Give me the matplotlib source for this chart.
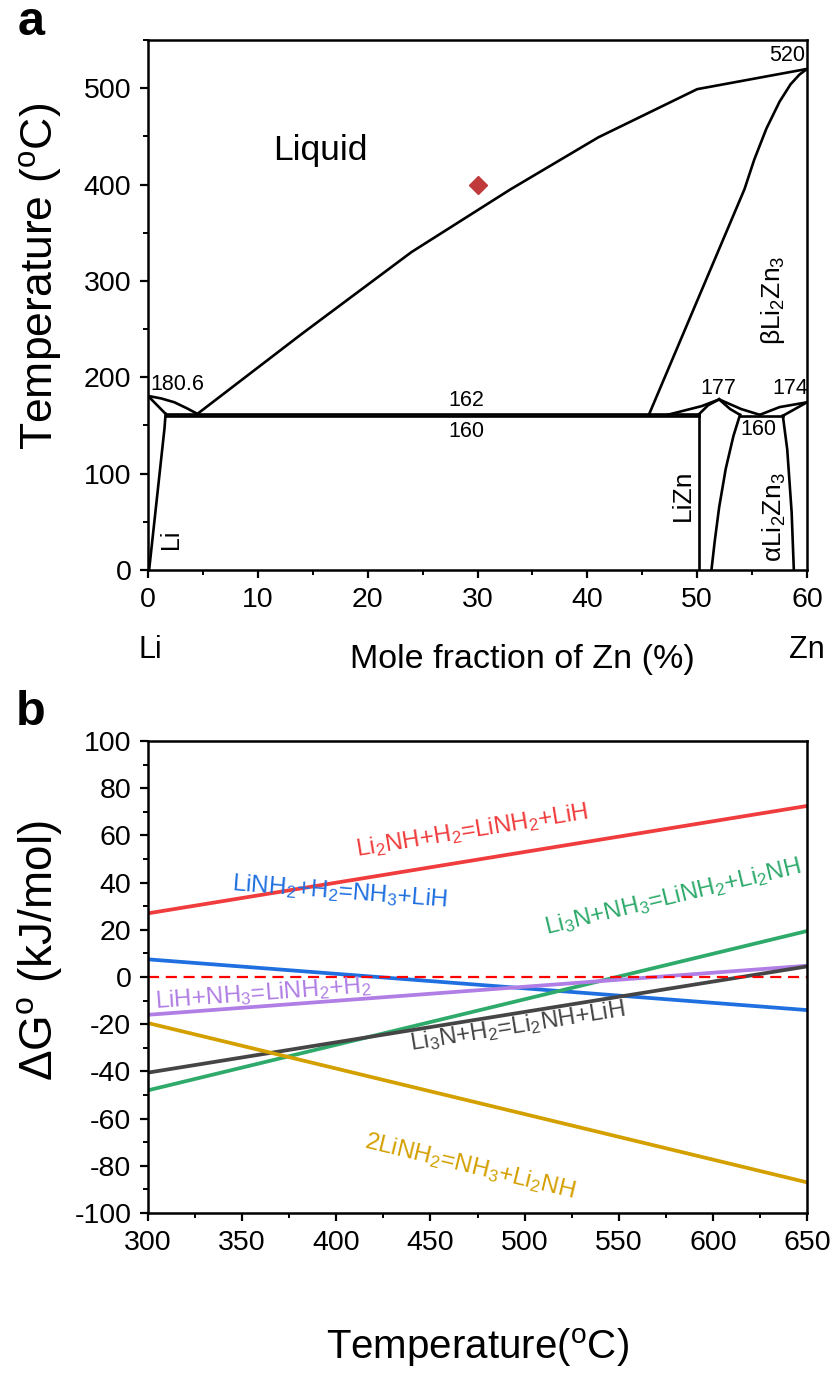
import numpy as np
import matplotlib
matplotlib.use("Agg")
import matplotlib.pyplot as plt
from matplotlib.ticker import MultipleLocator

plt.rcParams['font.family'] = ['Liberation Sans', 'DejaVu Sans']
plt.rcParams['mathtext.default'] = 'regular'
plt.rcParams['axes.unicode_minus'] = False

# ---- panel a : Li-Zn phase diagram ----
liq_x = [4.5, 14, 24, 33, 41, 50, 60]
liq_y = [162, 245, 330, 395, 449, 499, 520]
li_liq_x = [0, 1.2, 2.4, 3.5, 4.5]
li_liq_y = [180.6, 178, 174, 168, 162]
li_sol_x = [0, 1.6]
li_sol_y = [180.6, 162]
li_solvus_x = [1.6, 1.5, 0.1]
li_solvus_y = [162, 147, 0]
eut_x = [1.6, 50.2]
beta_x = [45.6, 54.3, 55.2, 56.3, 57.5, 58.5, 59.3, 60]
beta_y = [161, 395, 426, 458, 486, 504, 514, 520]
lizn_left_x = [50.2, 50.2]
lizn_left_y = [0, 162]
lizn_liq_l_x = [47.3, 50.4, 52.0]
lizn_liq_l_y = [161, 170, 177]
lizn_sol_l_x = [50.2, 51.0, 52.0]
lizn_sol_l_y = [162, 171, 177]
lizn_sol_r_x = [52.0, 53.0, 53.9]
lizn_sol_r_y = [177, 167, 161]
lizn_liq_r_x = [52.0, 54.0, 55.7]
lizn_liq_r_y = [177, 167, 161]
lizn_right_x = [53.9, 53.3, 52.6, 52.0, 51.6, 51.3]
lizn_right_y = [161, 139, 105, 65, 30, 0]
alpha_right_x = [57.8, 58.2, 58.6, 58.8]
alpha_right_y = [160, 125, 60, 0]
eut2_x = [53.9, 57.8]
zn_liq_x = [55.7, 57.5, 60]
zn_liq_y = [161, 169, 174]
zn_sol_x = [57.8, 60]
zn_sol_y = [160, 174]
point_x = [30]
point_y = [400]

# ---- panel b : Gibbs free energy vs temperature ----
T = [300, 650]
dG_red = [27, 72.5]
dG_blue = [7.5, -14]
dG_green = [-48, 19.5]
dG_purple = [-16, 4.8]
dG_gray = [-40.5, 4.5]
dG_gold = [-19.5, -87]
dG_zero = [0, 0]

series = [
    (dG_red, '#F03C3C', 'Li$_2$NH+H$_2$=LiNH$_2$+LiH', 472, 62),
    (dG_blue, '#1F6FE0', 'LiNH$_2$+H$_2$=NH$_3$+LiH', 402, 36),
    (dG_green, '#2EAA6B', 'Li$_3$N+NH$_3$=LiNH$_2$+Li$_2$NH', 579, 34),
    (dG_purple, '#B07EE4', 'LiH+NH$_3$=LiNH$_2$+H$_2$', 361, -7),
    (dG_gray, '#454545', 'Li$_3$N+H$_2$=Li$_2$NH+LiH', 496, -21),
    (dG_gold, '#D4A000', '2LiNH$_2$=NH$_3$+Li$_2$NH', 471, -80),
]

fig = plt.figure(figsize=(8.33, 13.8), dpi=100)
axa = fig.add_axes([0.1777, 0.587, 0.7911, 0.384])
axb = fig.add_axes([0.1777, 0.121, 0.7911, 0.342])

k = dict(color='black', lw=1.9, solid_joinstyle='miter')
axa.plot(liq_x, liq_y, **k)
axa.plot(li_liq_x, li_liq_y, **k)
axa.plot(li_sol_x, li_sol_y, **k)
axa.plot(li_solvus_x, li_solvus_y, **k)
axa.plot(eut_x, [162, 162], **k)
axa.plot(eut_x, [160, 160], **k)
axa.plot(beta_x, beta_y, **k)
axa.plot(lizn_left_x, lizn_left_y, **k)
axa.plot(lizn_liq_l_x, lizn_liq_l_y, **k)
axa.plot(lizn_sol_l_x, lizn_sol_l_y, **k)
axa.plot(lizn_sol_r_x, lizn_sol_r_y, **k)
axa.plot(lizn_liq_r_x, lizn_liq_r_y, **k)
axa.plot(lizn_right_x, lizn_right_y, **k)
axa.plot(alpha_right_x, alpha_right_y, **k)
axa.plot(eut2_x, [160, 160], **k)
axa.plot(zn_liq_x, zn_liq_y, **k)
axa.plot(zn_sol_x, zn_sol_y, **k)
axa.plot(point_x, point_y, 'D', color='#C0393B', ms=9)

axa.set_xlim(0, 60)
axa.set_ylim(0, 550)
axa.xaxis.set_major_locator(MultipleLocator(10))
axa.xaxis.set_minor_locator(MultipleLocator(5))
axa.yaxis.set_minor_locator(MultipleLocator(50))
axa.set_yticks([0, 100, 200, 300, 400, 500])

fs_small = 15.5
axa.text(2.7, 182, '180.6', fontsize=fs_small, ha='center', va='bottom')
axa.text(29, 176, '162', fontsize=fs_small, ha='center', va='center')
axa.text(29, 144, '160', fontsize=fs_small, ha='center', va='center')
axa.text(51.9, 188, '177', fontsize=fs_small, ha='center', va='center')
axa.text(58.5, 188, '174', fontsize=fs_small, ha='center', va='center')
axa.text(55.6, 146, '160', fontsize=fs_small, ha='center', va='center')
axa.text(59.8, 534, '520', fontsize=fs_small, ha='right', va='center')
axa.text(15.7, 435, 'Liquid', fontsize=25.5, ha='center', va='center')
axa.text(2.1, 32, 'Li', fontsize=18, rotation=90, ha='center', va='center')
axa.text(48.7, 78, 'LiZn', fontsize=19, rotation=90, ha='center', va='center')
axa.text(56.9, 280, 'βLi$_2$Zn$_3$', fontsize=19, rotation=90, ha='center', va='center')
axa.text(57.0, 55, 'αLi$_2$Zn$_3$', fontsize=19, rotation=90, ha='center', va='center')
axa.text(0.003, -0.152, 'Li', fontsize=22, ha='center', va='center', transform=axa.transAxes)
axa.text(1.0, -0.152, 'Zn', fontsize=22, ha='center', va='center', transform=axa.transAxes)

axa.set_xlabel('Mole fraction of Zn (%)', fontsize=24.5)
axa.xaxis.set_label_coords(0.568, -0.14)
axa.set_ylabel('Temperature ($^{o}$C)', fontsize=32)
axa.yaxis.set_label_coords(-0.128, 0.553)

# panel b
for vals, col, lab, tx, ty in series:
    axb.plot(T, vals, color=col, lw=2.7)
axb.plot(T, dG_zero, color='#FF0000', lw=1.6, ls=(0, (5, 3)))

axb.set_xlim(300, 650)
axb.set_ylim(-100, 100)
axb.xaxis.set_major_locator(MultipleLocator(50))
axb.xaxis.set_minor_locator(MultipleLocator(25))
axb.yaxis.set_major_locator(MultipleLocator(20))
axb.yaxis.set_minor_locator(MultipleLocator(10))

for vals, col, lab, tx, ty in series:
    p = axb.transData.transform(np.column_stack([T, vals]))
    ang = np.degrees(np.arctan2(p[-1, 1] - p[0, 1], p[-1, 0] - p[0, 0]))
    axb.text(tx, ty, lab, color=col, fontsize=17.5, rotation=ang,
             rotation_mode='anchor', ha='center', va='center')

axb.set_xlabel('Temperature($^{o}$C)', fontsize=29)
axb.xaxis.set_label_coords(0.5, -0.24)
axb.set_ylabel('ΔG$^{o}$ (kJ/mol)', fontsize=33)
axb.yaxis.set_label_coords(-0.128, 0.557)

for ax in (axa, axb):
    for s in ax.spines.values():
        s.set_linewidth(1.8)
    ax.tick_params(which='major', direction='out', length=6, width=1.6,
                   labelsize=20.5, pad=6)
    ax.tick_params(which='minor', direction='out', length=3.5, width=1.4)

fig.text(0.037, 0.984, 'a', fontsize=35, fontweight='bold', ha='center', va='center')
fig.text(0.037, 0.484, 'b', fontsize=35, fontweight='bold', ha='center', va='center')

fig.savefig('out.png', dpi=100)
